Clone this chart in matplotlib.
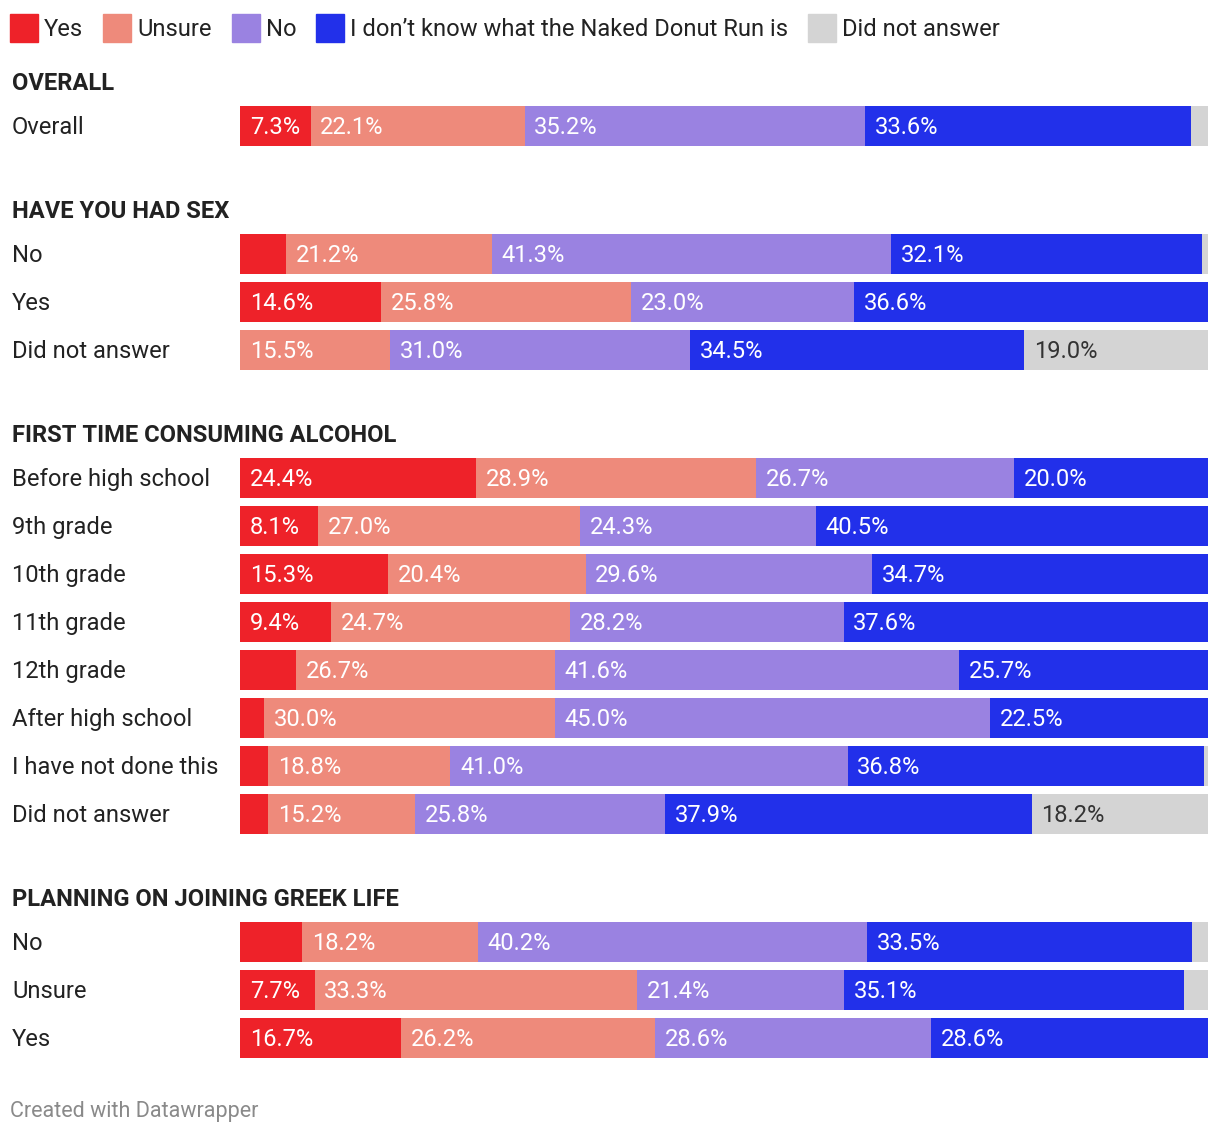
import numpy as np
import matplotlib
matplotlib.use("Agg")
import matplotlib.pyplot as plt
from matplotlib.patches import Rectangle
from matplotlib.transforms import blended_transform_factory

plt.rcParams['font.family'] = ['Roboto', 'DejaVu Sans']

series = ["Yes", "Unsure", "No", "I don\u2019t know what the Naked Donut Run is", "Did not answer"]
colors = ["#ee2229", "#ee8a7b", "#9a82e1", "#2230ea", "#d4d4d4"]
text_colors = ["white", "white", "white", "white", "#333333"]

groups = ["OVERALL", "HAVE YOU HAD SEX", "FIRST TIME CONSUMING ALCOHOL",
          "PLANNING ON JOINING GREEK LIFE"]

overall_rows = ["Overall"]
overall_vals = [[7.3, 22.1, 35.2, 33.6, 1.8]]

sex_rows = ["No", "Yes", "Did not answer"]
sex_vals = [
    [4.8, 21.2, 41.3, 32.1, 0.6],
    [14.6, 25.8, 23.0, 36.6, 0.0],
    [0.0, 15.5, 31.0, 34.5, 19.0],
]

alcohol_rows = ["Before high school", "9th grade", "10th grade", "11th grade",
                "12th grade", "After high school", "I have not done this",
                "Did not answer"]
alcohol_vals = [
    [24.4, 28.9, 26.7, 20.0, 0.0],
    [8.1, 27.0, 24.3, 40.5, 0.0],
    [15.3, 20.4, 29.6, 34.7, 0.0],
    [9.4, 24.7, 28.2, 37.6, 0.0],
    [5.8, 26.7, 41.6, 25.7, 0.0],
    [2.5, 30.0, 45.0, 22.5, 0.0],
    [2.9, 18.8, 41.0, 36.8, 0.4],
    [2.9, 15.2, 25.8, 37.9, 18.2],
]

greek_rows = ["No", "Unsure", "Yes"]
greek_vals = [
    [6.4, 18.2, 40.2, 33.5, 1.7],
    [7.7, 33.3, 21.4, 35.1, 2.5],
    [16.7, 26.2, 28.6, 28.6, 0.0],
]

all_rows = [overall_rows, sex_rows, alcohol_rows, greek_rows]
all_vals = [overall_vals, sex_vals, alcohol_vals, greek_vals]

W, H = 1220, 1136
fig = plt.figure(figsize=(W / 100, H / 100), dpi=100)
# axes spans the bar area horizontally, y in pixel rows from the top
ax = fig.add_axes([240 / W, 0, 968 / W, 1])
ax.set_xlim(0, 100)
ax.set_ylim(H, 0)
ax.axis("off")

lab = blended_transform_factory(fig.transFigure, ax.transData)
fs = 17.1
dy = 1.5  # small downward nudge so text sits like the original

y = 82
for gi, g in enumerate(groups):
    ax.text(12 / W, y + dy, g, transform=lab, fontsize=fs, fontweight="bold",
            color="#222222", va="center", ha="left")
    yy = y + 44
    for name, vals in zip(all_rows[gi], all_vals[gi]):
        ax.text(12 / W, yy + dy, name, transform=lab, fontsize=fs,
                color="#222222", va="center", ha="left")
        total = sum(vals)  # stacks are normalised to 100%
        left = 0
        for si, v in enumerate(vals):
            w = v * 100 / total
            if v > 0:
                ax.barh(yy, w, left=left, height=40, color=colors[si],
                        linewidth=0)
                if v >= 7:
                    ax.text(left + 1.0, yy + dy, f"{v:.1f}%", fontsize=fs,
                            color=text_colors[si], va="center", ha="left")
            left += w
        last = yy
        yy += 48
    y = last + 84

# legend
fx = fig.transFigure
x = 10
for c, s in zip(colors, series):
    fig.patches.append(Rectangle((x / W, 1 - 42 / H), 28 / W, 28 / H,
                                 transform=fx, color=c, figure=fig))
    t = fig.text((x + 34) / W, 1 - 29 / H, s, fontsize=fs, color="#222222",
                 va="center", ha="left")
    fig.canvas.draw()
    bb = t.get_window_extent()
    x = bb.x1 + 20

fig.text(10 / W, 1 - 1112 / H, "Created with Datawrapper", fontsize=15.5,
         color="#8a8a8a", va="center", ha="left")

fig.savefig("out.png", dpi=100, facecolor="white")
